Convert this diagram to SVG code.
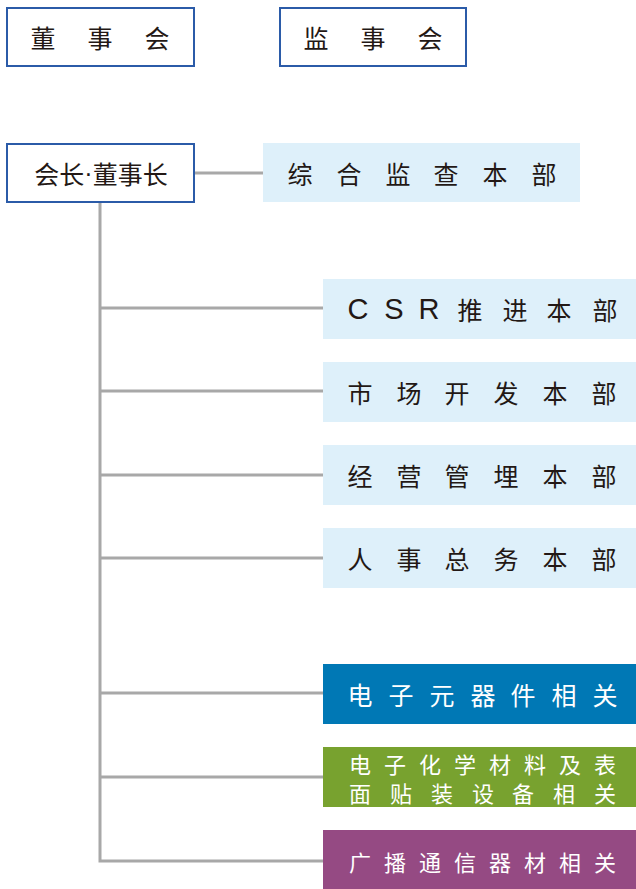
<svg xmlns="http://www.w3.org/2000/svg" width="636" height="889" viewBox="0 0 636 889">
<style>
.top{fill:#fff;stroke:#2b5ba8;stroke-width:2}
.lb{fill:#def0fa}
.t{font-family:"Noto Sans CJK SC","Noto Sans",sans-serif;font-size:25px;fill:#231815;text-anchor:middle;dominant-baseline:central}
.lat{font-family:"Liberation Sans",Arial,sans-serif;font-size:29px}
.w{fill:#fff}
.s{font-size:22px}
.c{stroke:#a8a8a8;stroke-width:3;fill:none}
</style>
<rect width="636" height="889" fill="#fff"/>
<g id="connectors">
<path class="c" d="M194 173H263"/>
<path class="c" d="M100 202V861H323"/>
<path class="c" d="M100 308H323M100 391H323M100 475H323M100 558H323M100 693H323M100 777H323"/>
</g>
<g id="board"><rect class="top" x="7" y="8" width="187" height="58"/><text class="t" x="43 100 157" y="37">董事会</text></g>
<g id="supervisors"><rect class="top" x="280" y="8" width="186" height="58"/><text class="t" x="316 373 430" y="37">监事会</text></g>
<g id="chairman"><rect class="top" x="7" y="144" width="187" height="58"/><text class="t" x="101" y="173">会长<tspan font-family="Liberation Sans,sans-serif">·</tspan>董事长</text></g>
<g id="audit"><rect class="lb" x="263" y="143" width="317" height="59"/><text class="t" x="300 349 398 446 495 544" y="173">综合监查本部</text></g>
<g id="csr"><rect class="lb" x="323" y="279" width="313" height="60"/><text class="t" y="309"><tspan class="lat" x="358 394 429">CSR</tspan><tspan x="470 515 559 605">推进本部</tspan></text></g>
<g id="market"><rect class="lb" x="323" y="362" width="313" height="60"/><text class="t" x="360 409 457 506 555 604" y="392">市场开发本部</text></g>
<g id="management"><rect class="lb" x="323" y="445" width="313" height="60"/><text class="t" x="360 409 457 506 555 604" y="475">经营管埋本部</text></g>
<g id="hr"><rect class="lb" x="323" y="528" width="313" height="60"/><text class="t" x="360 409 457 506 555 604" y="558">人事总务本部</text></g>
<g id="electronic"><rect x="323" y="664" width="313" height="60" fill="#0078b5"/><text class="t w" x="360 401 442 483 523 564 605" y="694">电子元器件相关</text></g>
<g id="chemical"><rect x="323" y="747" width="313" height="60" fill="#78a22f"/><text class="t w s" x="360 395 430 465 500 535 570 605" y="763">电子化学材料及表</text><text class="t w s" x="360 401 442 483 523 564 605" y="792">面贴装设备相关</text></g>
<g id="broadcast"><rect x="323" y="830" width="313" height="59" fill="#954a83"/><text class="t w s" x="360 395 430 465 500 535 570 605" y="861">广播通信器材相关</text></g>
</svg>
